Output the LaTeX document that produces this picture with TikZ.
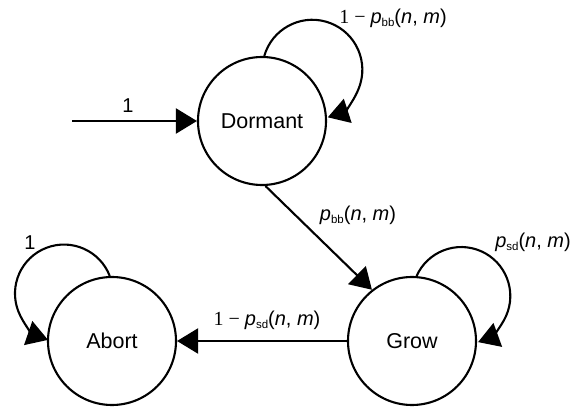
\documentclass[tikz,border=0pt]{standalone}
\usepackage{fontspec}
\setmainfont{Liberation Sans}
\newfontfamily\tnr{Liberation Serif}
\usetikzlibrary{arrows.meta}
\newcommand{\prb}[1]{\textit{p}\raisebox{-0.35ex}{\fontsize{11.5}{12}\selectfont #1}(\textit{n}, \textit{m})}
\begin{document}
\begin{tikzpicture}[x=1pt,y=1pt,
  state/.style={circle,draw,line width=2.1pt,minimum size=128pt,inner sep=0pt,font=\fontsize{21.5}{24}\selectfont},
  conn/.style={line width=2.1pt,-{Triangle[length=21pt,width=25pt]}},
  lbl/.style={font=\fontsize{20}{22}\selectfont,inner sep=0pt}]
\useasboundingbox (0,0) rectangle (579,407);
\node[state] (dormant) at (262,286) {Dormant};
\node[state] (grow) at (412,66) {Grow};
\node[state] (abort) at (112,66) {Abort};
\coordinate (init) at (72,286);
\draw[conn] (init) -- (dormant.west);
\draw[conn] (dormant.-87) -- (grow.128);
\draw[conn] (grow) -- (abort);
\draw[conn] (dormant.88) arc[start angle=164,end angle=-72,radius=50];
\draw[conn] (grow.86) arc[start angle=156,end angle=-70,radius=49];
\draw[conn] (abort.92) arc[start angle=21,end angle=251,radius=49];
\node[lbl] (l1) at (128,301) {1};
\node[lbl] (l2) at (393,389) {{\tnr 1 − }\prb{bb}};
\node[lbl] (l3) at (358,192) {\prb{bb}};
\node[lbl] (l4) at (533,165) {\prb{sd}};
\node[lbl] (l5) at (267,87) {{\tnr 1 − }\prb{sd}};
\node[lbl] (l6) at (30,164) {1};
\end{tikzpicture}
\end{document}
